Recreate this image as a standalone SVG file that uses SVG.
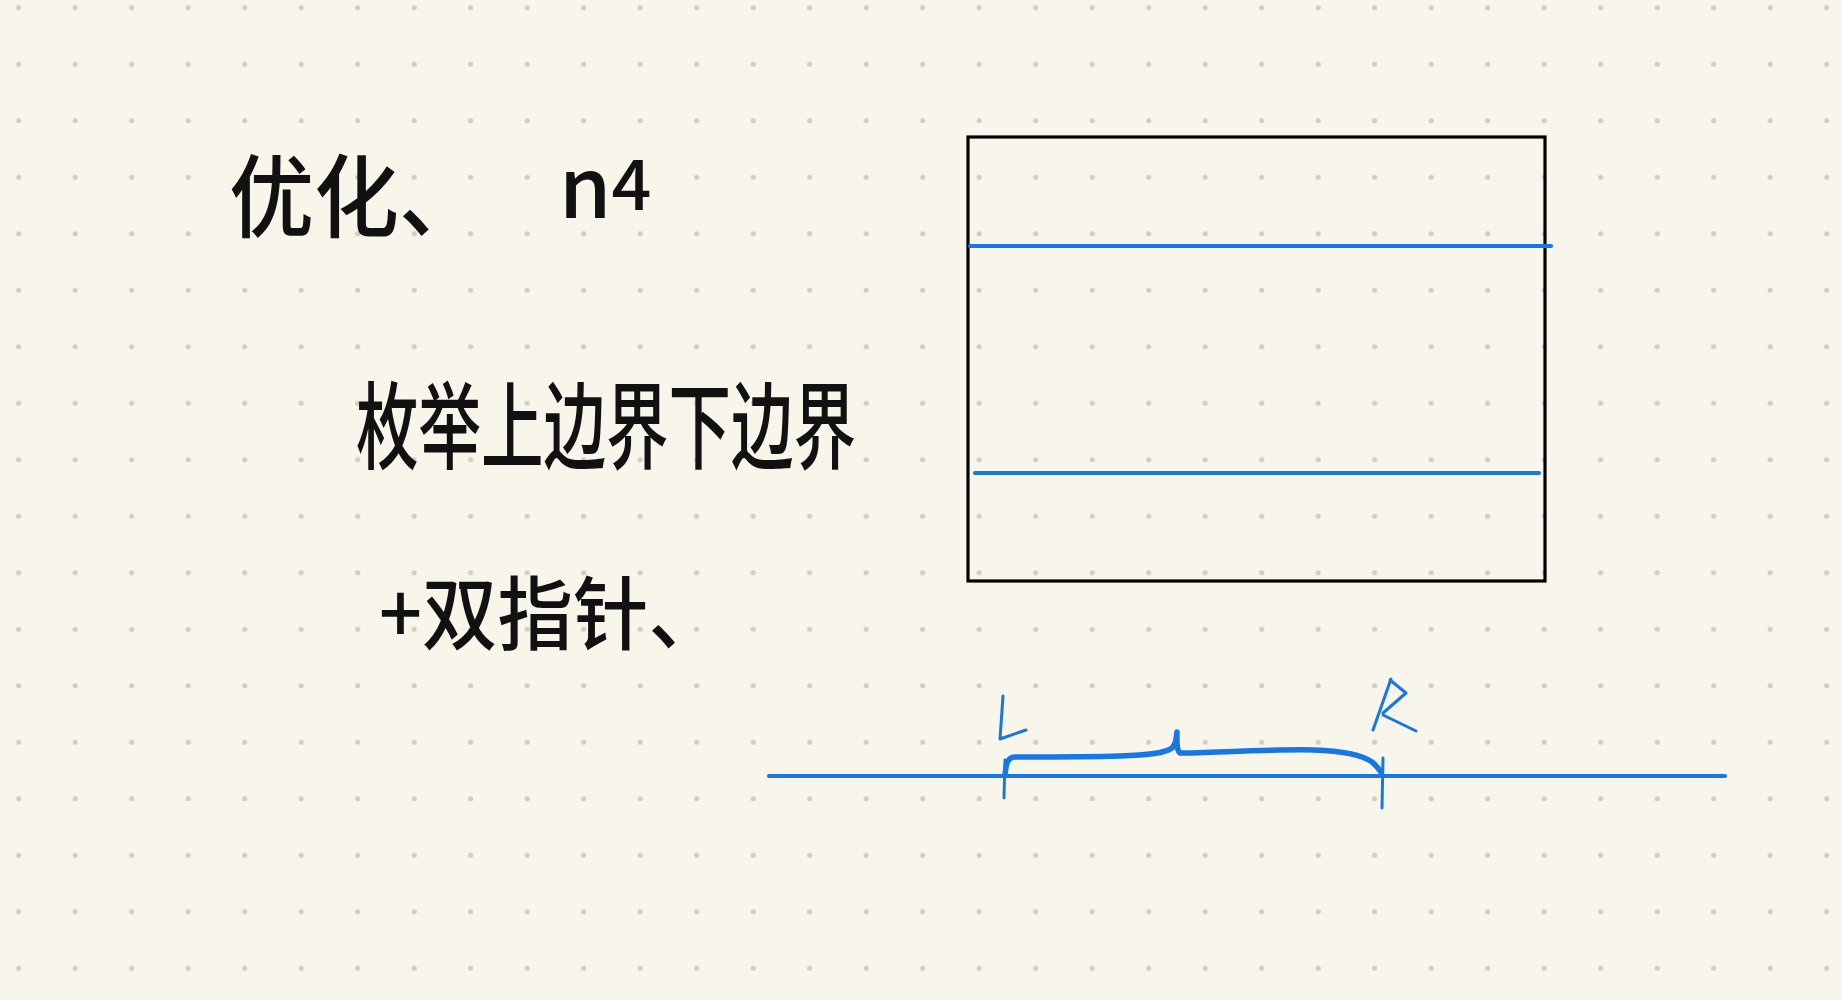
<svg xmlns="http://www.w3.org/2000/svg" width="1842" height="1000" viewBox="0 0 1842 1000">
<defs>
<pattern id="dots" patternUnits="userSpaceOnUse" x="-9.55" y="-20.55" width="56.5" height="56.5">
<circle cx="28.25" cy="28.25" r="2.6" fill="#d0cdc5"/>
</pattern>
</defs>
<style>
.hw{font-family:"Noto Sans CJK SC","Noto Sans",sans-serif;fill:#111;font-weight:500}
.blue{stroke:#1677e5;fill:none;stroke-linecap:round;stroke-linejoin:round}
</style>
<rect width="1842" height="1000" fill="#f8f6eb"/>
<rect width="1842" height="1000" fill="url(#dots)"/>

<g id="title">
<text class="hw" x="229" y="230" font-size="90" textLength="255" lengthAdjust="spacingAndGlyphs">优化、</text>
<text class="hw" x="559" y="218" font-size="84" font-family="Liberation Sans, sans-serif" font-weight="400">n<tspan font-size="70" dy="-8">4</tspan></text>
</g>

<g id="line1">
<text class="hw" x="356" y="462" font-size="95" textLength="500" lengthAdjust="spacingAndGlyphs">枚举上边界下边界</text>
</g>

<g id="line2">
<text class="hw" x="379" y="643" font-size="80" textLength="345" lengthAdjust="spacingAndGlyphs">+双指针、</text>
</g>

<g id="matrix">
<rect x="968" y="137" width="577" height="444" fill="none" stroke="#000" stroke-width="3.2"/>
<line class="blue" x1="970" y1="246" x2="1551" y2="246" stroke-width="4.2"/>
<line class="blue" x1="975" y1="473" x2="1539" y2="473" stroke-width="4.2"/>
</g>

<g id="connectors">
<line class="blue" x1="769" y1="776" x2="1725" y2="776" stroke-width="4.2"/>
<line class="blue" x1="1005" y1="760" x2="1004" y2="798" stroke-width="3"/>
<line class="blue" x1="1383" y1="758" x2="1382" y2="808" stroke-width="3"/>
<path class="blue" stroke-width="5.5" d="M1005,775 C1006,765 1007,757 1015,757 C1045,757 1090,757 1120,756 C1150,755 1165,753 1172,748 C1177,743 1176,736 1177,732 C1177,740 1176,750 1180,753 C1210,753 1270,749 1314,750 C1345,751 1362,755 1372,762 C1377,766 1379,769 1381,772"/>
<path class="blue" stroke-width="3" d="M1003,696 L1000,739 L1026,730"/>
<path class="blue" stroke-width="3" d="M1391,679 L1373,730 M1390,680 L1406,693 L1383,713 M1383,715 L1416,731"/>
</g>
</svg>
